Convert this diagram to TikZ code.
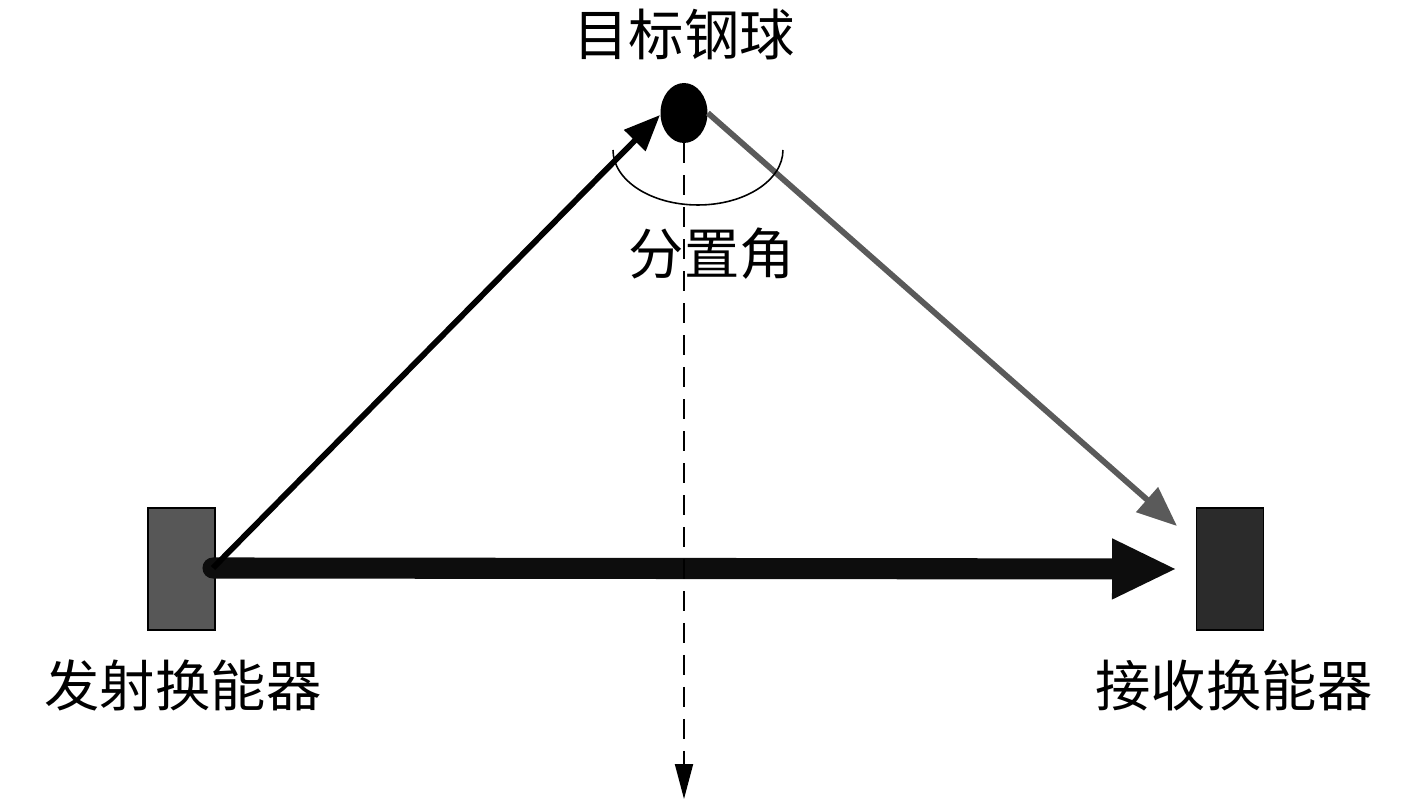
\documentclass[tikz,border=0pt]{standalone}
\usepackage{fontspec}
\newfontfamily\cjk{Noto Sans CJK SC}
\usetikzlibrary{arrows.meta,shapes.geometric}
\definecolor{txgray}{HTML}{575757}
\definecolor{rxgray}{HTML}{2B2B2B}
\definecolor{thickblk}{HTML}{0D0D0D}
\definecolor{echogray}{HTML}{5A5A5A}
\tikzset{
  transducer/.style={draw=black, line width=0.6pt, minimum width=1.34cm, minimum height=2.44cm, inner sep=0pt},
  lbl/.style={font=\cjk\fontsize{31.5}{36}\selectfont, inner sep=0pt},
  ballshape/.style={ellipse, fill=black, minimum width=0.94cm, minimum height=1.2cm, inner sep=0pt},
}
\begin{document}
\begin{tikzpicture}[x=0.02cm, y=-0.02cm]
\useasboundingbox (0,0) rectangle (1417,803);
% nodes
\node[transducer, fill=txgray] (tx) at (181.5,569) {};
\node[transducer, fill=rxgray] (rx) at (1230,569) {};
\node[ballshape] (ball) at (684,113) {};
\coordinate (s) at (213,568);
\coordinate (dtip) at (660,115);
\coordinate (etip) at (1177,526);
\coordinate (ttip) at (1177,569);
\coordinate (vtip) at (684,799);
% thick direct arrow
\draw[thickblk, line width=12pt, line cap=round, -{Triangle[length=1.3cm, width=1.12cm]}] (s) -- (ttip);
% diagonal incident
\draw[black, line width=3.3pt, -{Triangle[length=0.72cm, width=0.58cm]}] (s) -- (dtip);
% echo
\draw[echogray, line width=3.3pt, -{Triangle[length=0.8cm, width=0.64cm]}] (ball.east) -- (etip);
% dashed vertical
\draw[line width=1.1pt, dash pattern=on 11.4pt off 6.8pt, -{Triangle[length=0.7cm, width=0.36cm]}] (ball.south) -- (vtip);
% arc
\draw[line width=0.9pt] (613,150) arc[start angle=180, end angle=360, x radius=1.7cm, y radius=1.1cm];
% labels
\node[lbl] (t1) at (684,35) {目标钢球};
\node[lbl] (t2) at (712,254) {分置角};
\node[lbl] (t3) at (183,685) {发射换能器};
\node[lbl] (t4) at (1234,685) {接收换能器};
\end{tikzpicture}
\end{document}
